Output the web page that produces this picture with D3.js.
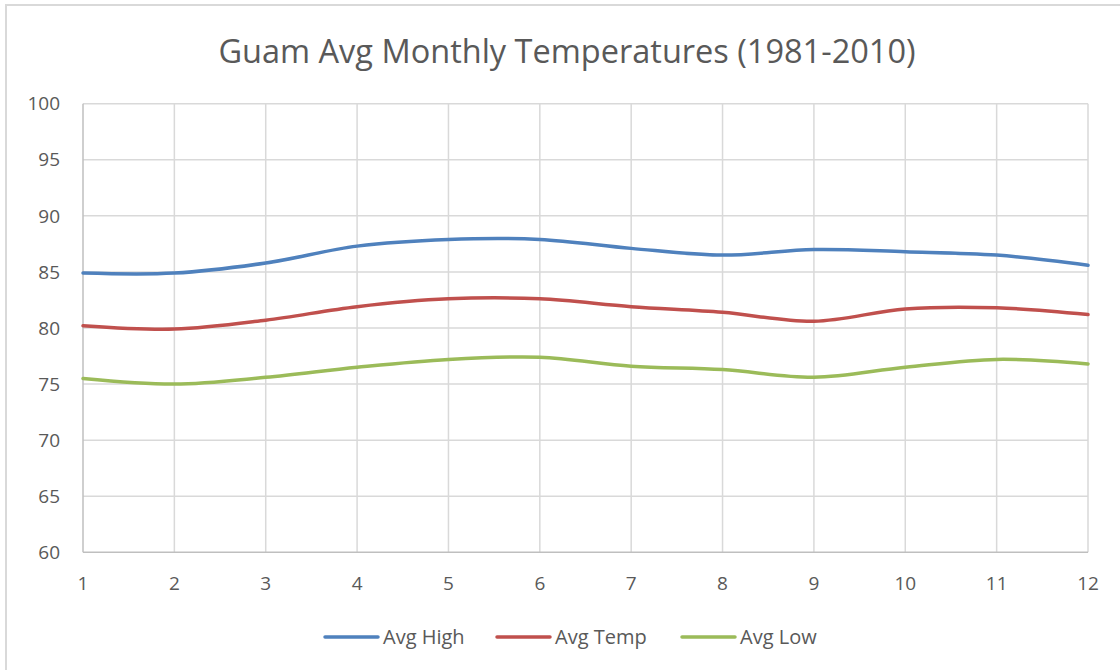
<!DOCTYPE html>
<html>
<head>
<meta charset="utf-8">
<script src="https://cdn.jsdelivr.net/npm/d3@7"></script>
<style>
  html, body { margin: 0; padding: 0; background: #fff; }
  svg { display: block; }
  text { font-family: "Open Sans", "Noto Sans", sans-serif; fill: #595959; }
</style>
</head>
<body>
<svg id="chart" width="1120" height="670"></svg>
<script>
const months = [1, 2, 3, 4, 5, 6, 7, 8, 9, 10, 11, 12];
const avgHigh = [84.9, 84.9, 85.8, 87.3, 87.9, 87.9, 87.1, 86.5, 87.0, 86.8, 86.5, 85.6];
const avgTemp = [80.2, 79.9, 80.7, 81.9, 82.6, 82.6, 81.9, 81.4, 80.6, 81.7, 81.8, 81.2];
const avgLow  = [75.5, 75.0, 75.6, 76.5, 77.2, 77.4, 76.6, 76.3, 75.6, 76.5, 77.2, 76.8];
const yTicks = [60, 65, 70, 75, 80, 85, 90, 95, 100];
const seriesNames = ["Avg High", "Avg Temp", "Avg Low"];
const seriesColors = ["#4f81bd", "#c0504d", "#9bbb59"];
const title = "Guam Avg Monthly Temperatures (1981-2010)";

const series = [avgHigh, avgTemp, avgLow];

const svg = d3.select("#chart");
const W = 1120, H = 670;
const m = { left: 83, right: 1088, top: 103.7, bottom: 552.3 };

// outer chart border (only top/left visible in frame)
svg.append("rect")
  .attr("x", 6).attr("y", 5)
  .attr("width", W + 10).attr("height", H + 10)
  .attr("fill", "#fff").attr("stroke", "#d9d9d9").attr("stroke-width", 2);

const x = d3.scaleLinear().domain([1, 12]).range([m.left, m.right]);
const y = d3.scaleLinear().domain([60, 100]).range([m.bottom, m.top]);

// horizontal gridlines
svg.append("g")
  .selectAll("line").data(yTicks.filter(d => d !== 60)).join("line")
  .attr("x1", m.left).attr("x2", m.right)
  .attr("y1", d => y(d)).attr("y2", d => y(d))
  .attr("stroke", "#d9d9d9").attr("stroke-width", 1.5);

// vertical gridlines
svg.append("g")
  .selectAll("line").data(months.filter(d => d !== 1)).join("line")
  .attr("x1", d => x(d)).attr("x2", d => x(d))
  .attr("y1", m.top).attr("y2", m.bottom)
  .attr("stroke", "#d9d9d9").attr("stroke-width", 1.5);

// axes lines
svg.append("line")
  .attr("x1", m.left).attr("x2", m.right)
  .attr("y1", y(60)).attr("y2", y(60))
  .attr("stroke", "#bfbfbf").attr("stroke-width", 1.5);
svg.append("line")
  .attr("x1", m.left).attr("x2", m.left)
  .attr("y1", m.top).attr("y2", m.bottom)
  .attr("stroke", "#bfbfbf").attr("stroke-width", 1.5);

// y tick labels
svg.append("g")
  .selectAll("text").data(yTicks).join("text")
  .attr("x", 60).attr("y", d => y(d))
  .attr("dy", "0.35em")
  .attr("text-anchor", "end")
  .attr("font-size", 19)
  .text(d => d);

// x tick labels
svg.append("g")
  .selectAll("text").data(months).join("text")
  .attr("x", d => x(d)).attr("y", 583)
  .attr("dy", "0.35em")
  .attr("text-anchor", "middle")
  .attr("font-size", 19)
  .text(d => d);

// lines
const line = d3.line()
  .x((d, i) => x(months[i]))
  .y(d => y(d))
  .curve(d3.curveCatmullRom.alpha(0));

svg.append("g")
  .selectAll("path").data(series).join("path")
  .attr("d", d => line(d))
  .attr("fill", "none")
  .attr("stroke", (d, i) => seriesColors[i])
  .attr("stroke-width", 3.5)
  .attr("stroke-linecap", "round");

// title
svg.append("text")
  .attr("x", 567).attr("y", 63)
  .attr("text-anchor", "middle")
  .attr("font-size", 32.5)
  .text(title);

// legend
const legendX = [325, 497, 682];
const lg = svg.append("g");
seriesNames.forEach((name, i) => {
  lg.append("line")
    .attr("x1", legendX[i]).attr("x2", legendX[i] + 53)
    .attr("y1", 637).attr("y2", 637)
    .attr("stroke", seriesColors[i]).attr("stroke-width", 3.5)
    .attr("stroke-linecap", "round");
  lg.append("text")
    .attr("x", legendX[i] + 58).attr("y", 637)
    .attr("dy", "0.35em")
    .attr("font-size", 20)
    .text(name);
});
</script>
</body>
</html>
